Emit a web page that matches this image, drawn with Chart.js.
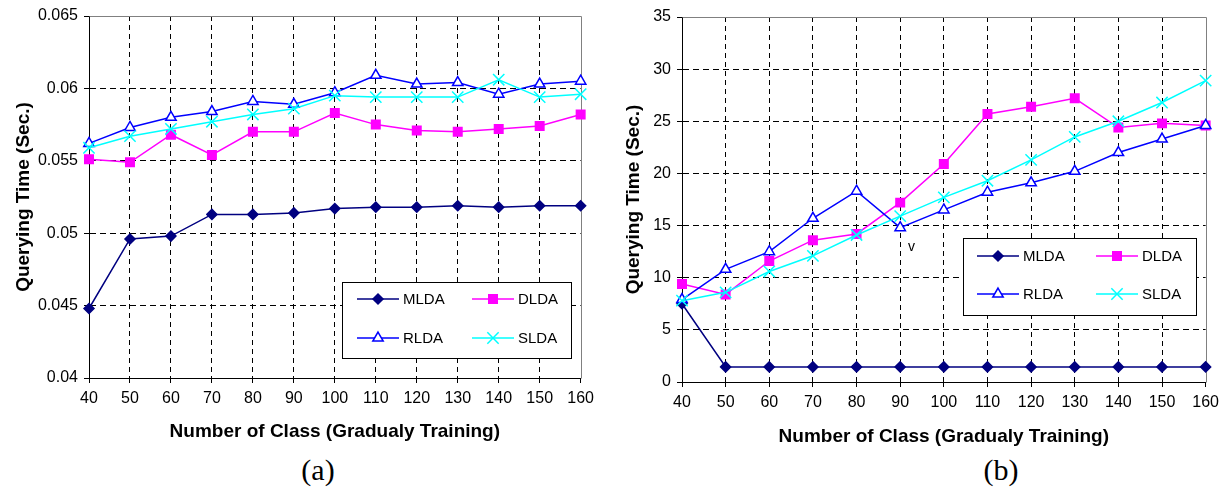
<!DOCTYPE html>
<html>
<head>
<meta charset="utf-8">
<script src="https://cdn.jsdelivr.net/npm/chart.js@4.4.1/dist/chart.umd.min.js"></script>
<style>
  body { margin: 0; background: #fff; width: 1225px; height: 490px; position: relative; overflow: hidden; }
  .panel { position: absolute; top: 0; height: 450px; }
  .panel canvas { display: block; }
  .cap { position: absolute; top: 455px; width: 80px; text-align: center; font: 30px "Liberation Serif", "Times New Roman", serif; line-height: 30px; color: #000; }
  .note { position: absolute; left: 908px; top: 239px; font: 14px "Liberation Sans", Arial, sans-serif; line-height: 14px; color: #000; }
</style>
</head>
<body>
<div class="panel" style="left:0;width:600px"><canvas id="charta" width="600" height="450"></canvas></div>
<div class="panel" style="left:610px;width:615px"><canvas id="chartb" width="615" height="450"></canvas></div>
<div class="cap" style="left:278px">(a)</div>
<div class="cap" style="left:961px">(b)</div>
<div class="note">v</div>
<script>
const classes = ["40", "50", "60", "70", "80", "90", "100", "110", "120", "130", "140", "150", "160"];
const seriesNames = ["MLDA", "DLDA", "RLDA", "SLDA"];

// (a) querying time, small scale
const aMLDA = [0.0448, 0.0496, 0.0498, 0.0513, 0.0513, 0.0514, 0.0517, 0.0518, 0.0518, 0.0519, 0.0518, 0.0519, 0.0519];
const aDLDA = [0.0551, 0.0549, 0.0568, 0.0554, 0.0570, 0.0570, 0.0583, 0.0575, 0.0571, 0.0570, 0.0572, 0.0574, 0.0582];
const aRLDA = [0.0562, 0.0573, 0.0580, 0.0584, 0.0591, 0.0589, 0.0597, 0.0609, 0.0603, 0.0604, 0.0596, 0.0603, 0.0605];
const aSLDA = [0.0559, 0.0567, 0.0572, 0.0577, 0.0582, 0.0586, 0.0595, 0.0594, 0.0594, 0.0594, 0.0606, 0.0594, 0.0596];

// (b) querying time, seconds
const bMLDA = [7.5, 1.45, 1.45, 1.45, 1.45, 1.45, 1.45, 1.45, 1.45, 1.45, 1.45, 1.45, 1.45];
const bDLDA = [9.4, 8.4, 11.6, 13.6, 14.2, 17.2, 20.9, 25.7, 26.4, 27.2, 24.4, 24.8, 24.6];
const bRLDA = [7.9, 10.8, 12.5, 15.7, 18.3, 14.8, 16.5, 18.2, 19.1, 20.2, 22.0, 23.3, 24.6];
const bSLDA = [7.8, 8.6, 10.6, 12.1, 14.1, 15.9, 17.7, 19.3, 21.3, 23.5, 25.0, 26.8, 28.9];

const yTicksA = { min: 0.04, max: 0.065, step: 0.005 };
const yTicksB = { min: 0, max: 35, step: 5 };

const styles = [
    { color: "#000080", point: "rectRot", radius: 5, fill: "#000080", order: 3 },
    { color: "#ff00ff", point: "rect", radius: 6, fill: "#ff00ff", order: 2 },
    { color: "#0000ff", point: "triangle", radius: 6, fill: "#ffffff", order: 1 },
    { color: "#00ffff", point: "crossRot", radius: 8, fill: "#00ffff", order: 0 }
];

const tickFont = { family: "'Liberation Sans', Arial, sans-serif", size: 16 };
const titleFont = { family: "'Liberation Sans', Arial, sans-serif", size: 19, weight: "bold" };

// top and right edge of the plot area are grey, left/bottom are the black axes
const frame = {
    id: "frame",
    beforeDatasetsDraw(chart) {
        const { ctx, chartArea: a } = chart;
        ctx.save();
        ctx.strokeStyle = "#808080";
        ctx.lineWidth = 1;
        ctx.beginPath();
        ctx.moveTo(Math.round(a.left) + 0.5, Math.round(a.top) + 0.5);
        ctx.lineTo(Math.round(a.right) + 0.5, Math.round(a.top) + 0.5);
        ctx.lineTo(Math.round(a.right) + 0.5, Math.round(a.bottom) + 0.5);
        ctx.stroke();
        ctx.restore();
    }
};

// boxed two-column legend sitting inside the plot
const boxLegend = {
    id: "boxLegend",
    afterDatasetsDraw(chart, args, opts) {
        const { ctx } = chart;
        const b = opts.box;
        ctx.save();
        ctx.fillStyle = "#fff";
        ctx.fillRect(b.x, b.y, b.w, b.h);
        ctx.strokeStyle = "#000";
        ctx.lineWidth = 1;
        ctx.strokeRect(b.x + 0.5, b.y + 0.5, b.w, b.h);
        ctx.font = "15px 'Liberation Sans', Arial, sans-serif";
        ctx.textBaseline = "middle";
        chart.data.datasets.forEach((ds, i) => {
            const col = i % 2, row = Math.floor(i / 2);
            const x0 = b.x + opts.cols[col];
            const y = b.y + opts.rows[row];
            ctx.strokeStyle = ds.borderColor;
            ctx.lineWidth = 1.5;
            ctx.beginPath();
            ctx.moveTo(x0, y);
            ctx.lineTo(x0 + 42, y);
            ctx.stroke();
            ctx.fillStyle = ds.pointBackgroundColor;
            ctx.strokeStyle = ds.borderColor;
            Chart.helpers.drawPoint(ctx, {
                pointStyle: ds.pointStyle,
                radius: ds.pointRadius,
                borderWidth: ds.pointBorderWidth,
                rotation: 0
            }, x0 + 21, y);
            ctx.fillStyle = "#000";
            ctx.fillText(ds.label, x0 + 46, y + 1);
        });
        ctx.restore();
    }
};

function edgeless(ctx) {
    const n = ctx.chart.scales[ctx.scale.id].ticks.length;
    return (ctx.index === 0 || ctx.index === n - 1) ? "rgba(0,0,0,0)" : "#000";
}

function makeChart(el, values, yt, lay) {
    return new Chart(document.getElementById(el), {
        type: "line",
        data: {
            labels: classes,
            datasets: values.map((v, i) => ({
                label: seriesNames[i],
                data: v,
                borderColor: styles[i].color,
                backgroundColor: styles[i].fill,
                pointBackgroundColor: styles[i].fill,
                pointBorderColor: styles[i].color,
                pointStyle: styles[i].point,
                pointRadius: styles[i].radius,
                pointBorderWidth: 1.5,
                borderWidth: 1.5,
                tension: 0,
                order: styles[i].order
            }))
        },
        options: {
            responsive: false,
            animation: false,
            events: [],
            layout: { padding: { top: lay.top, right: lay.right, left: 0, bottom: 0 } },
            plugins: {
                legend: { display: false },
                tooltip: { enabled: false },
                boxLegend: lay.legend
            },
            scales: {
                x: {
                    offset: false,
                    grid: { color: edgeless, tickColor: "#000", tickLength: 5, lineWidth: 1 },
                    border: { display: true, color: "#000", width: 1, dash: [5, 4] },
                    ticks: { color: "#000", font: tickFont, padding: 6, maxRotation: 0, autoSkip: false },
                    title: { display: true, text: "Number of Class (Gradualy Training)", color: "#000", font: titleFont, padding: { top: 0, bottom: lay.xTitlePad } },
                    afterFit: s => { s.height = lay.xh; }
                },
                y: {
                    min: yt.min,
                    max: yt.max,
                    grid: { color: edgeless, tickColor: "#000", tickLength: 5, lineWidth: 1 },
                    border: { display: true, color: "#000", width: 1, dash: [6, 4] },
                    ticks: {
                        stepSize: yt.step,
                        color: "#000",
                        font: tickFont,
                        padding: 6,
                        callback: v => String(+v.toFixed(3))
                    },
                    title: { display: true, text: "Querying Time (Sec.)", color: "#000", font: titleFont, padding: { top: lay.yTitlePad, bottom: 0 } },
                    afterFit: s => { s.width = lay.yw; }
                }
            }
        },
        plugins: [frame, boxLegend]
    });
}

const chartA = makeChart("charta", [aMLDA, aDLDA, aRLDA, aSLDA], yTicksA, {
    top: 16, right: 14, xh: 72, yw: 89, xTitlePad: 7, yTitlePad: 12,
    legend: { box: { x: 342, y: 282, w: 229, h: 76 }, cols: [15, 130], rows: [17, 56] }
});

const chartB = makeChart("chartb", [bMLDA, bDLDA, bRLDA, bSLDA], yTicksB, {
    top: 17, right: 17, xh: 68, yw: 72, xTitlePad: 2, yTitlePad: 12,
    legend: { box: { x: 353, y: 238, w: 233, h: 77 }, cols: [14, 133], rows: [18, 56] }
});
</script>
</body>
</html>
